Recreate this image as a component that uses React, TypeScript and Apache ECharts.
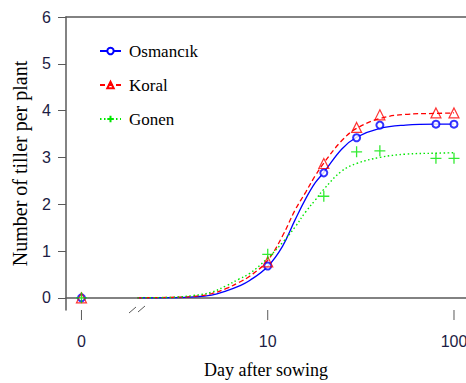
import React, { useEffect, useRef } from "react";
import * as echarts from "echarts";

// Observed data (day 0 is drawn at the broken-axis "0" position, i.e. log value 1)
const obsDays = [0, 10, 20, 30, 40, 80, 100];
const osmancikObs = [0, 0.68, 2.67, 3.42, 3.69, 3.71, 3.71];
const koralObs = [0, 0.77, 2.87, 3.64, 3.91, 3.95, 3.95];
const gonenObs = [0, 0.93, 2.17, 3.12, 3.14, 2.98, 2.98];

// Fitted curves
const fitDays = [2, 3, 4, 5, 6, 7, 8, 10, 12, 14, 16, 18, 20, 25, 30, 40, 55, 80, 100];
const osmancikFit = [0, 0.005, 0.02, 0.06, 0.15, 0.25, 0.37, 0.67, 1.1, 1.66, 2.12, 2.46, 2.68, 3.18, 3.43, 3.62, 3.69, 3.71, 3.71];
const koralFit = [0, 0.01, 0.03, 0.09, 0.2, 0.33, 0.46, 0.8, 1.32, 1.87, 2.26, 2.61, 2.88, 3.36, 3.62, 3.83, 3.92, 3.94, 3.95];
const gonenFit = [0, 0.01, 0.05, 0.12, 0.26, 0.4, 0.52, 0.85, 1.18, 1.51, 1.84, 2.09, 2.32, 2.71, 2.87, 3.0, 3.07, 3.09, 3.1];

const xTickValues = [1, 10, 100];
const xTickLabels = ["0", "10", "100"];
const yTickValues = [0, 1, 2, 3, 4, 5, 6];

const names = ["Osmancık", "Koral", "Gonen"];

const BLUE = "#0000ff";
const RED = "#ff0000";
const GREEN = "#00e600";
const AXIS = "#5a5a5a";
const SERIF = "Liberation Serif";
const SANS = "Liberation Sans";

const X_MIN = 0.826;
const X_MAX = 116;
const Y_MIN = -0.26;

const toPos = (d: number) => (d === 0 ? 1 : d);

export default function App() {
  const ref = useRef<HTMLDivElement>(null);
  useEffect(() => {
    if (!ref.current) return;
    const chart = echarts.init(ref.current, null, { renderer: "svg" });
    const obs = (vals: number[]) => obsDays.map((d, i) => [toPos(d), vals[i]]);
    const fit = (vals: number[]) => fitDays.map((d, i) => [d, vals[i]]);
    const plus = "path://M0,5L10,5M5,0L5,10";
    const hollow = (c: string) => ({ color: "rgba(255,255,255,0)", borderColor: c, borderWidth: 1.2 });
    const xBase = {
      type: "log",
      logBase: 10,
      min: X_MIN,
      max: X_MAX,
      splitLine: { show: false },
      minorTick: { show: false },
      axisTick: { show: false },
    };

    const option: any = {
      animation: false,
      grid: { left: 66, top: 17, right: 0, bottom: 73, outerBoundsMode: "none", containLabel: false },
      legend: {
        orient: "vertical",
        left: 94,
        top: 36,
        itemWidth: 21,
        itemHeight: 8,
        itemGap: 14,
        data: names,
        textStyle: { fontFamily: SERIF, fontSize: 17, color: "#000", lineHeight: 20, padding: [0, 0, 0, 3] },
      },
      xAxis: [
        {
          ...xBase,
          axisLine: { show: true, lineStyle: { color: AXIS, width: 1.5 } },
          axisLabel: {
            customValues: xTickValues,
            margin: 23,
            fontFamily: SANS,
            fontSize: 16,
            color: "#1c1c44",
            formatter: (v: number) => {
              const i = xTickValues.findIndex((t) => Math.abs(t - v) < 1e-6 * Math.max(1, t));
              return i >= 0 ? xTickLabels[i] : "";
            },
          },
          name: "Day after sowing",
          nameLocation: "middle",
          nameGap: 51,
          nameTextStyle: { fontFamily: SERIF, fontSize: 18, color: "#000" },
        },
        {
          ...xBase,
          position: "top",
          axisLine: { show: true, lineStyle: { color: AXIS, width: 1.5 } },
          axisLabel: { show: false },
        },
      ],
      yAxis: {
        type: "value",
        min: Y_MIN,
        max: 6,
        axisLine: { show: true, lineStyle: { color: AXIS, width: 1.5 } },
        axisTick: { show: true, length: 8, customValues: yTickValues, lineStyle: { color: AXIS, width: 1 } },
        axisLabel: { customValues: yTickValues, margin: 15, fontFamily: SANS, fontSize: 16, color: "#1c1c44" },
        splitLine: { show: false },
        name: "Number of tiller per plant",
        nameLocation: "middle",
        nameGap: 36,
        nameRotate: 90,
        nameTextStyle: { fontFamily: SERIF, fontSize: 20, color: "#000" },
      },
      series: [
        {
          name: names[0],
          type: "line",
          data: fit(osmancikFit),
          smooth: 0.4,
          showSymbol: false,
          symbol: "emptyCircle",
          symbolSize: 5,
          lineStyle: { color: BLUE, width: 1.3, type: "solid" },
          itemStyle: { color: BLUE, borderColor: BLUE },
          z: 2,
        },
        {
          name: names[1],
          type: "line",
          data: fit(koralFit),
          smooth: 0.4,
          showSymbol: false,
          symbol: "triangle",
          symbolSize: 8,
          lineStyle: { color: RED, width: 1.3, type: [5, 3] },
          itemStyle: hollow(RED),
          z: 2,
        },
        {
          name: names[2],
          type: "line",
          data: fit(gonenFit),
          smooth: 0.4,
          showSymbol: false,
          symbol: plus,
          symbolSize: 9,
          lineStyle: { color: GREEN, width: 1.4, type: [1.5, 2.5] },
          itemStyle: hollow(GREEN),
          z: 2,
        },
        {
          name: names[0],
          type: "scatter",
          data: obs(osmancikObs),
          symbol: "emptyCircle",
          symbolSize: 7,
          itemStyle: { color: BLUE, borderColor: BLUE, borderWidth: 1.2 },
          z: 3,
        },
        {
          name: names[1],
          type: "scatter",
          data: obs(koralObs),
          symbol: "triangle",
          symbolSize: [10, 10],
          itemStyle: hollow(RED),
          z: 3,
        },
        {
          name: names[2],
          type: "scatter",
          data: obs(gonenObs),
          symbol: plus,
          symbolSize: 11,
          itemStyle: { color: "rgba(0,0,0,0)", borderColor: GREEN, borderWidth: 1.3 },
          z: 3,
        },
      ],
    };
    chart.setOption(option);

    // x-axis ticks positioned through the log axis' own scale
    const yAxisPix = chart.convertToPixel({ yAxisIndex: 0 }, Y_MIN) as number;
    const tickGraphics = xTickValues.map((v, i) => {
      const x = chart.convertToPixel({ xAxisIndex: 0 }, v) as number;
      return {
        id: "xtick" + i,
        type: "line",
        shape: { x1: x, y1: yAxisPix, x2: x, y2: yAxisPix + 10 },
        style: { stroke: AXIS, lineWidth: 1 },
        z: 50,
      };
    });
    chart.setOption({
      graphic: [
        ...tickGraphics,
        { id: "brk-bg", type: "rect", shape: { x: 130, y: yAxisPix - 2, width: 14, height: 4 }, style: { fill: "#fff" }, z: 100 },
        { id: "brk-1", type: "line", shape: { x1: 129, y1: yAxisPix + 3, x2: 136, y2: yAxisPix - 3 }, style: { stroke: AXIS, lineWidth: 1 }, z: 101 },
        { id: "brk-2", type: "line", shape: { x1: 138, y1: yAxisPix + 2, x2: 145, y2: yAxisPix - 4 }, style: { stroke: AXIS, lineWidth: 1 }, z: 101 },
      ],
    });
    return () => chart.dispose();
  }, []);
  return (
    <div
      ref={ref}
      style={{ position: "fixed", left: 0, top: 0, width: 466, height: 383, background: "#fff" }}
    />
  );
}
